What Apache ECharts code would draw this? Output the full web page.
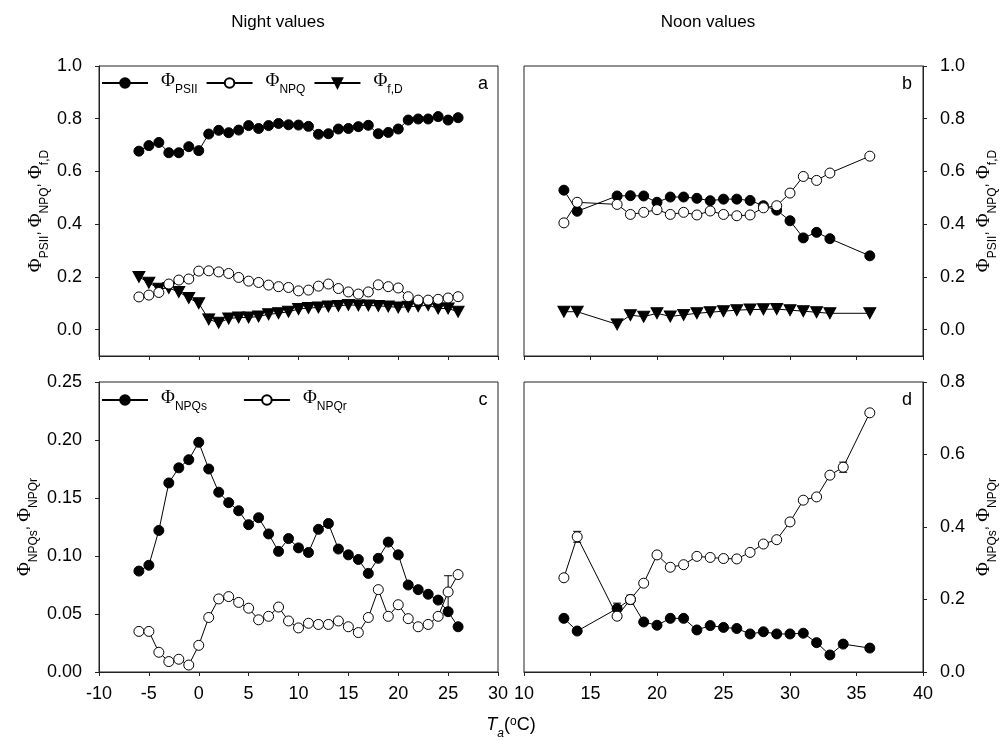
<!DOCTYPE html>
<html>
<head>
<meta charset="utf-8">
<script src="https://cdn.jsdelivr.net/npm/echarts@6/dist/echarts.min.js"></script>
<style>
html, body { margin: 0; padding: 0; background: #fff; }
#chart { width: 1003px; height: 740px; }
</style>
</head>
<body>
<div id="chart"></div>
<script>
// night (panels a, c): one point per degree from -6 to 26
const nightT = [-6, -5, -4, -3, -2, -1, 0, 1, 2, 3, 4, 5, 6, 7, 8, 9, 10, 11, 12, 13, 14, 15, 16, 17, 18, 19, 20, 21, 22, 23, 24, 25, 26];
const nightPSII = [0.677, 0.698, 0.710, 0.671, 0.671, 0.694, 0.679, 0.742, 0.756, 0.747, 0.757, 0.774, 0.763, 0.774, 0.782, 0.777, 0.776, 0.771, 0.741, 0.743, 0.761, 0.763, 0.770, 0.775, 0.743, 0.748, 0.761, 0.795, 0.799, 0.799, 0.808, 0.795, 0.804];
const nightNPQ = [0.124, 0.131, 0.141, 0.173, 0.188, 0.192, 0.222, 0.223, 0.219, 0.213, 0.198, 0.184, 0.179, 0.169, 0.163, 0.160, 0.147, 0.150, 0.165, 0.173, 0.156, 0.143, 0.135, 0.143, 0.170, 0.163, 0.158, 0.125, 0.112, 0.112, 0.115, 0.120, 0.125];
const nightFD = [0.200, 0.178, 0.155, 0.158, 0.143, 0.120, 0.100, 0.039, 0.026, 0.042, 0.046, 0.046, 0.050, 0.058, 0.062, 0.068, 0.078, 0.082, 0.084, 0.088, 0.090, 0.094, 0.092, 0.092, 0.090, 0.088, 0.084, 0.087, 0.089, 0.093, 0.080, 0.080, 0.068];
const nightNPQs = [0.087, 0.092, 0.122, 0.163, 0.176, 0.183, 0.198, 0.175, 0.155, 0.146, 0.139, 0.127, 0.133, 0.119, 0.104, 0.115, 0.107, 0.103, 0.123, 0.128, 0.106, 0.101, 0.097, 0.085, 0.098, 0.112, 0.101, 0.075, 0.071, 0.067, 0.062, 0.052, 0.039];
const nightNPQr = [0.035, 0.035, 0.017, 0.009, 0.011, 0.006, 0.023, 0.047, 0.063, 0.065, 0.060, 0.055, 0.045, 0.048, 0.056, 0.044, 0.038, 0.042, 0.041, 0.041, 0.044, 0.039, 0.034, 0.047, 0.071, 0.048, 0.058, 0.046, 0.039, 0.041, 0.048, 0.069, 0.084];

// noon (panels b, d)
const noonTb = [13, 14, 17, 18, 19, 20, 21, 22, 23, 24, 25, 26, 27, 28, 29, 30, 31, 32, 33, 36];
const noonPSII = [0.529, 0.449, 0.507, 0.508, 0.507, 0.483, 0.503, 0.503, 0.498, 0.489, 0.495, 0.495, 0.490, 0.470, 0.453, 0.413, 0.348, 0.369, 0.345, 0.280];
const noonNPQ = [0.405, 0.483, 0.475, 0.437, 0.445, 0.455, 0.437, 0.445, 0.435, 0.450, 0.437, 0.432, 0.435, 0.462, 0.470, 0.518, 0.581, 0.566, 0.594, 0.658];
const noonFD = [0.068, 0.068, 0.020, 0.055, 0.049, 0.062, 0.050, 0.056, 0.062, 0.066, 0.070, 0.074, 0.076, 0.077, 0.078, 0.074, 0.070, 0.066, 0.062, 0.062];
const noonTd = [13, 14, 17, 18, 19, 20, 21, 22, 23, 24, 25, 26, 27, 28, 29, 30, 31, 32, 33, 34, 36];
const noonNPQs = [0.148, 0.113, 0.175, 0.200, 0.138, 0.129, 0.148, 0.148, 0.116, 0.128, 0.123, 0.120, 0.105, 0.111, 0.105, 0.105, 0.107, 0.081, 0.047, 0.077, 0.066];
const noonNPQr = [0.260, 0.373, 0.154, 0.200, 0.245, 0.323, 0.289, 0.296, 0.319, 0.316, 0.313, 0.312, 0.330, 0.353, 0.365, 0.414, 0.474, 0.483, 0.543, 0.565, 0.715];

// error bars [x, y, error]
const errC = [[25, 0.0685, 0.0145]];
const errD = [[14, 0.373, 0.015], [17, 0.175, 0.015], [18, 0.200, 0.012], [34, 0.565, 0.014]];

const ticksA = [0, 0.2, 0.4, 0.6, 0.8, 1.0];

const FONT = 'Liberation Sans, Arial, sans-serif';
const rich = {
    p: { fontFamily: 'Liberation Serif, serif', fontSize: 19, lineHeight: 22, verticalAlign: 'top', color: '#000' },
    s: { fontFamily: FONT, fontSize: 12, lineHeight: 12, padding: [12, 0, 0, 0], verticalAlign: 'top', color: '#000' },
    c: { fontFamily: FONT, fontSize: 15, lineHeight: 22, verticalAlign: 'top', color: '#000' },
    sp: { width: 8, lineHeight: 22 }
};
const legendNames = {
    PSII: '{sp|}{p|Φ}{s|PSII}',
    NPQ: '{sp|}{p|Φ}{s|NPQ}',
    fD: '{sp|}{p|Φ}{s|f,D}',
    NPQs: '{sp|}{p|Φ}{s|NPQs}',
    NPQr: '{sp|}{p|Φ}{s|NPQr}'
};
const nameAB = '{p|Φ}{s|PSII}{c|, }{p|Φ}{s|NPQ}{c|, }{p|Φ}{s|f,D}';
const nameCD = '{p|Φ}{s|NPQs}{c|, }{p|Φ}{s|NPQr}';

const zip = (xs, ys) => xs.map((x, i) => [x, ys[i]]);

function xAxis(gi, min, max, showLabel) {
    return {
        type: 'value', gridIndex: gi, min: min, max: max, interval: 5,
        axisLine: { show: true, onZero: false, lineStyle: { color: '#222', width: 1 } },
        axisTick: { show: true, inside: false, length: 4, lineStyle: { color: '#222' } },
        axisLabel: { show: showLabel, color: '#000', fontSize: 18, fontFamily: FONT, margin: 13, showMinLabel: true, showMaxLabel: true },
        splitLine: { show: false }
    };
}

function yAxis(gi, pos, opts) {
    return Object.assign({
        type: 'value', gridIndex: gi, position: pos,
        axisLine: { show: true, onZero: false, lineStyle: { color: '#222', width: 1 } },
        splitLine: { show: false },
        nameLocation: 'middle', nameRotate: 90,
        nameTextStyle: { rich: rich }
    }, opts);
}

function lineSeries(name, xi, data, kind) {
    const s = {
        type: 'line', name: name, xAxisIndex: xi, yAxisIndex: xi, data: data,
        symbol: 'circle', symbolSize: 10,
        lineStyle: { color: '#000', width: 1 },
        itemStyle: { color: '#000', borderColor: '#000', borderWidth: 1 },
        emphasis: { disabled: true },
        z: 3
    };
    if (kind === 'open') {
        s.itemStyle = { color: '#fff', borderColor: '#000', borderWidth: 1 };
        s.z = 4;
    }
    if (kind === 'tri') {
        s.symbol = 'triangle';
        s.symbolRotate = 180;
        s.symbolSize = [12, 11];
    }
    return s;
}

function errSeries(xi, data) {
    return {
        type: 'custom', xAxisIndex: xi, yAxisIndex: xi, data: data, z: 2,
        renderItem: function (params, api) {
            const x = api.value(0), y = api.value(1), e = api.value(2);
            const top = api.coord([x, y + e]);
            const bot = api.coord([x, y - e]);
            const st = { stroke: '#000', lineWidth: 1 };
            return {
                type: 'group', children: [
                    { type: 'line', shape: { x1: top[0], y1: top[1], x2: bot[0], y2: bot[1] }, style: st },
                    { type: 'line', shape: { x1: top[0] - 4, y1: top[1], x2: top[0] + 4, y2: top[1] }, style: st },
                    { type: 'line', shape: { x1: bot[0] - 4, y1: bot[1], x2: bot[0] + 4, y2: bot[1] }, style: st }
                ]
            };
        }
    };
}

const gridBox = { show: true, borderColor: '#222', borderWidth: 1, backgroundColor: 'transparent' };

const option = {
    animation: false,
    backgroundColor: '#fff',
    textStyle: { fontFamily: FONT },
    grid: [
        Object.assign({ left: 99, top: 66, width: 399, height: 290 }, gridBox),
        Object.assign({ left: 524, top: 66, width: 399, height: 290 }, gridBox),
        Object.assign({ left: 99, top: 382, width: 399, height: 290 }, gridBox),
        Object.assign({ left: 524, top: 382, width: 399, height: 290 }, gridBox)
    ],
    xAxis: [
        xAxis(0, -10, 30, false),
        xAxis(1, 10, 40, false),
        xAxis(2, -10, 30, true),
        xAxis(3, 10, 40, true)
    ],
    yAxis: [
        yAxis(0, 'left', {
            min: -0.1, max: 1.0,
            axisTick: { show: true, length: 4, customValues: ticksA, lineStyle: { color: '#222' } },
            axisLabel: { color: '#000', fontSize: 18, fontFamily: FONT, margin: 17, customValues: ticksA, formatter: v => v.toFixed(1) },
            name: nameAB, nameGap: 50
        }),
        yAxis(1, 'right', {
            min: -0.1, max: 1.0,
            axisTick: { show: true, length: 4, customValues: ticksA, lineStyle: { color: '#222' } },
            axisLabel: { color: '#000', fontSize: 18, fontFamily: FONT, margin: 17, customValues: ticksA, formatter: v => v.toFixed(1) },
            name: nameAB, nameGap: 52
        }),
        yAxis(2, 'left', {
            min: 0, max: 0.25, interval: 0.05,
            axisTick: { show: true, length: 4, lineStyle: { color: '#222' } },
            axisLabel: { color: '#000', fontSize: 18, fontFamily: FONT, margin: 17, formatter: v => v.toFixed(2) },
            name: nameCD, nameGap: 61
        }),
        yAxis(3, 'right', {
            min: 0, max: 0.8, interval: 0.2,
            axisTick: { show: true, length: 4, lineStyle: { color: '#222' } },
            axisLabel: { color: '#000', fontSize: 18, fontFamily: FONT, margin: 17, formatter: v => v.toFixed(1) },
            name: nameCD, nameGap: 52
        })
    ],
    legend: [
        {
            data: ['PSII', 'NPQ', 'fD'], left: 101, top: 72, padding: 0, itemGap: 8,
            itemWidth: 46, itemHeight: 12, selectedMode: false,
            formatter: n => legendNames[n], textStyle: { rich: rich }
        },
        {
            data: ['NPQs', 'NPQr'], left: 101, top: 389, padding: 0, itemGap: 36,
            itemWidth: 46, itemHeight: 12, selectedMode: false,
            formatter: n => legendNames[n], textStyle: { rich: rich }
        }
    ],
    series: [
        lineSeries('PSII', 0, zip(nightT, nightPSII), 'fill'),
        lineSeries('NPQ', 0, zip(nightT, nightNPQ), 'open'),
        lineSeries('fD', 0, zip(nightT, nightFD), 'tri'),
        lineSeries('PSII', 1, zip(noonTb, noonPSII), 'fill'),
        lineSeries('NPQ', 1, zip(noonTb, noonNPQ), 'open'),
        lineSeries('fD', 1, zip(noonTb, noonFD), 'tri'),
        errSeries(2, errC),
        lineSeries('NPQs', 2, zip(nightT, nightNPQs), 'fill'),
        lineSeries('NPQr', 2, zip(nightT, nightNPQr), 'open'),
        errSeries(3, errD),
        lineSeries('NPQs', 3, zip(noonTd, noonNPQs), 'fill'),
        lineSeries('NPQr', 3, zip(noonTd, noonNPQr), 'open')
    ],
    graphic: [
        { type: 'text', x: 278, y: 22, style: { text: 'Night values', font: '17px Liberation Sans', fill: '#000', align: 'center', verticalAlign: 'middle' } },
        { type: 'text', x: 708, y: 22, style: { text: 'Noon values', font: '17px Liberation Sans', fill: '#000', align: 'center', verticalAlign: 'middle' } },
        { type: 'text', x: 483, y: 84, style: { text: 'a', font: '18px Liberation Sans', fill: '#000', align: 'center', verticalAlign: 'middle' } },
        { type: 'text', x: 907, y: 84, style: { text: 'b', font: '18px Liberation Sans', fill: '#000', align: 'center', verticalAlign: 'middle' } },
        { type: 'text', x: 483, y: 400, style: { text: 'c', font: '18px Liberation Sans', fill: '#000', align: 'center', verticalAlign: 'middle' } },
        { type: 'text', x: 907, y: 400, style: { text: 'd', font: '18px Liberation Sans', fill: '#000', align: 'center', verticalAlign: 'middle' } },
        {
            type: 'text', x: 511, y: 727,
            style: {
                text: '{t|T}{a|a}{n|(}{o|o}{n|C)}', align: 'center', verticalAlign: 'middle',
                rich: {
                    t: { font: 'italic 18px Liberation Sans', fill: '#000', lineHeight: 22, verticalAlign: 'top' },
                    a: { font: 'italic 12px Liberation Sans', fill: '#000', lineHeight: 12, padding: [12, 0, 0, 0], verticalAlign: 'top' },
                    n: { font: '18px Liberation Sans', fill: '#000', lineHeight: 22, verticalAlign: 'top' },
                    o: { font: '12px Liberation Sans', fill: '#000', lineHeight: 12, padding: [0, 0, 0, 0], verticalAlign: 'top' }
                }
            }
        }
    ]
};

const chart = echarts.init(document.getElementById('chart'), null, { renderer: 'canvas' });
chart.setOption(option);
</script>
</body>
</html>
